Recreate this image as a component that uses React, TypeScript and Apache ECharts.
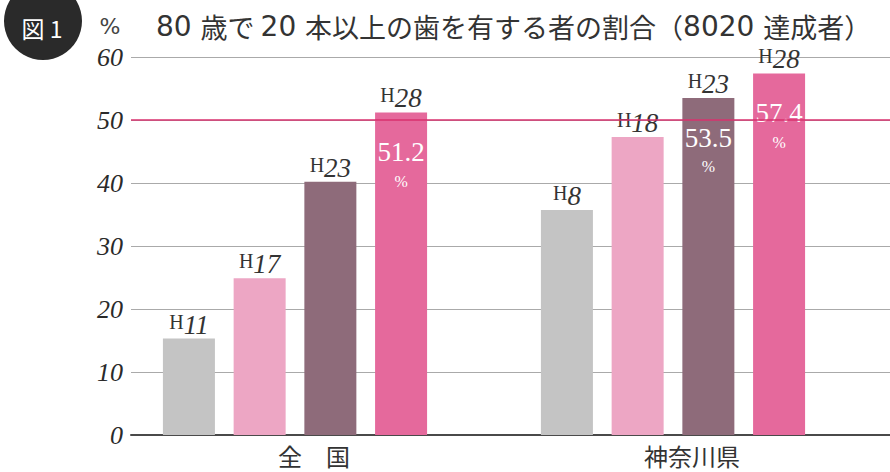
import React, { useEffect, useRef } from 'react';
import * as echarts from 'echarts';

const categories = ['全　国', '神奈川県'];
const eraLabels = [
  ['H11', 'H8'],
  ['H17', 'H18'],
  ['H23', 'H23'],
  ['H28', 'H28'],
];
const values = [
  [15.3, 35.7],
  [24.9, 47.3],
  [40.2, 53.5],
  [51.2, 57.4],
];
const showValue = [
  [false, false],
  [false, false],
  [false, true],
  [true, true],
];
const barColors = ['#c4c4c4', '#eda6c4', '#8e6b7a', '#e5699c'];
const yMin = 0;
const yMax = 60;
const yInterval = 10;
const targetLine = 50;
const titleParts: [string, string][] = [
  ['d', '80 '],
  ['k', '歳で '],
  ['d', '20 '],
  ['k', '本以上の歯を有する者の割合（'],
  ['d', '8020 '],
  ['k', '達成者）'],
];

const SERIF = 'Liberation Serif';
const SANS = 'Noto Sans CJK JP';

export default function App() {
  const ref = useRef<HTMLDivElement>(null);
  useEffect(() => {
    if (!ref.current) return;
    const chart = echarts.init(ref.current, null, { renderer: 'svg' });
    const rich = {
      h: { fontFamily: SERIF, fontSize: 20, color: '#333', lineHeight: 26, verticalAlign: 'top' },
      n: { fontFamily: SERIF, fontStyle: 'italic', fontSize: 27, color: '#333', lineHeight: 26 },
      s: { fontSize: 1, lineHeight: 23 },
      v: { fontFamily: SERIF, fontSize: 27, color: '#fff', lineHeight: 36 },
      p: { fontFamily: SERIF, fontSize: 16, color: '#fff', lineHeight: 22 },
    };
    const barSeries = values.map((vals, i) => ({
      type: 'bar',
      xAxisIndex: 1,
      yAxisIndex: 1,
      barWidth: 52,
      barGap: '36%',
      z: 3,
      itemStyle: { color: barColors[i] },
      data: vals.map((v, j) => {
        const era = eraLabels[i][j];
        const eraText = `{h|${era.slice(0, 1)}}{n|${era.slice(1)}}`;
        if (showValue[i][j]) {
          return {
            value: v,
            label: {
              show: true,
              position: ['50%', -27],
              align: 'center',
              verticalAlign: 'top',
              formatter: `${eraText}\n{s| }\n{v|${v.toFixed(1)}}\n{p|%}`,
              rich,
            },
          };
        }
        return {
          value: v,
          label: {
            show: true,
            position: 'top',
            distance: 1,
            formatter: eraText,
            rich,
          },
        };
      }),
    }));
    chart.setOption({
      animation: false,
      title: {
        text: titleParts.map(([k, t]) => `{${k}|${t}}`).join(''),
        left: 151,
        top: 5,
        textStyle: {
          fontWeight: 'normal',
          rich: {
            d: { fontFamily: 'DejaVu Sans', fontWeight: 'normal', fontSize: 28, color: '#333', lineHeight: 32 },
            k: { fontFamily: SANS, fontWeight: 'normal', fontSize: 27, color: '#333', lineHeight: 32 },
          },
        },
      },
      graphic: [
        { type: 'circle', shape: { cx: 43, cy: 21, r: 39 }, style: { fill: '#2a2a2a' } },
        {
          type: 'text',
          x: 42,
          y: 28,
          style: {
            text: '図 1',
            font: `23px "${SANS}"`,
            fill: '#fff',
            align: 'center',
            verticalAlign: 'middle',
          },
        },
        {
          type: 'text',
          x: 110,
          y: 26,
          style: {
            text: '%',
            font: `22px "DejaVu Sans"`,
            fill: '#444',
            align: 'center',
            verticalAlign: 'middle',
          },
        },
      ],
      grid: [
        { left: 131, right: 0, top: 57, bottom: 37 },
        { left: 106, right: 28, top: 57, bottom: 37 },
      ],
      xAxis: [
        {
          type: 'category',
          gridIndex: 0,
          data: [''],
          axisLine: { show: true, lineStyle: { color: '#4a4a4a', width: 2 } },
          axisTick: { show: false },
          axisLabel: { show: false },
        },
        {
          type: 'category',
          gridIndex: 1,
          data: categories,
          axisLine: { show: false },
          axisTick: { show: false },
          axisLabel: {
            fontFamily: SANS,
            fontSize: 24,
            color: '#333',
            margin: 8,
            padding: [0, 0, 0, 38],
          },
        },
      ],
      yAxis: [
        {
          type: 'value',
          gridIndex: 0,
          min: yMin,
          max: yMax,
          interval: yInterval,
          axisLine: { show: false },
          axisTick: { show: false },
          axisLabel: {
            fontFamily: SERIF,
            fontStyle: 'italic',
            fontSize: 26,
            color: '#2a2a2a',
            margin: 8,
          },
          splitLine: { lineStyle: { color: '#aaaaaa', width: 1 } },
        },
        {
          type: 'value',
          gridIndex: 1,
          min: yMin,
          max: yMax,
          interval: yInterval,
          show: false,
          splitLine: { show: false },
        },
      ],
      series: [
        {
          type: 'line',
          xAxisIndex: 0,
          yAxisIndex: 0,
          data: [],
          z: 1,
          silent: true,
          markLine: {
            silent: true,
            symbol: ['none', 'none'],
            label: { show: false },
            lineStyle: { color: '#d9306e', width: 1.5, type: 'solid' },
            data: [{ yAxis: targetLine }],
          },
        },
        ...barSeries,
      ],
    });
    return () => chart.dispose();
  }, []);
  return (
    <div
      ref={ref}
      style={{ position: 'absolute', left: 0, top: 0, width: 890, height: 472, background: '#fff' }}
    />
  );
}
